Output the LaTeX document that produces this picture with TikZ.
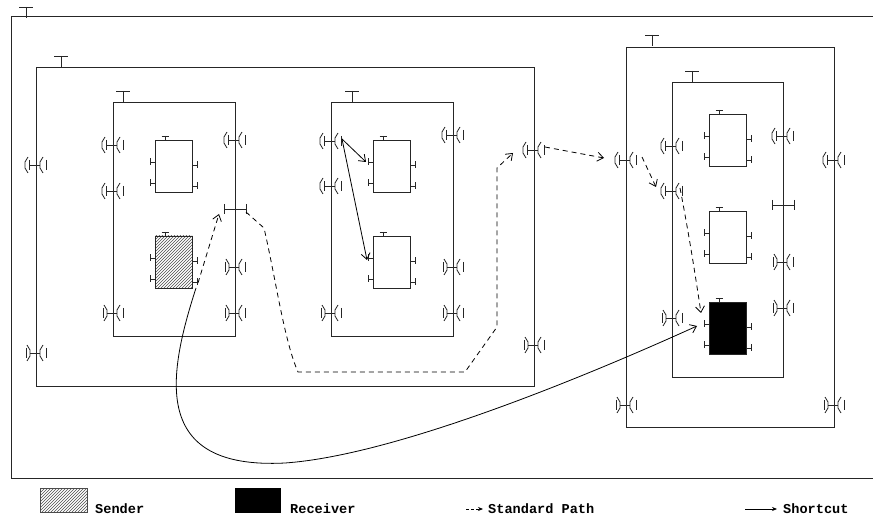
\documentclass[tikz,border=0pt]{standalone}
\usepackage{fontspec}
\newfontfamily\legfont{Liberation Mono}
\usetikzlibrary{arrows.meta,patterns}
\tikzset{
  box/.style={draw=black!85, line width=0.9pt, inner sep=0pt, minimum width=#1},
  comp/.style={draw=black!85, line width=0.9pt, inner sep=0pt, minimum width=37pt, minimum height=52.5pt},
  pline/.style={draw=black!85, line width=0.8pt},
  portA/.pic={
    \draw[pline] (-8,-8)--(-11,-3)--(-11,3)--(-8,8);
    \draw[pline] (-7,-5)--(-7,5);
    \draw[pline] (-7,0)--(4,0);
    \draw[pline] (7,-8)--(4,-3)--(4,3)--(7,8);
    \draw[pline] (10,-5)--(10,5);},
  portB/.pic={
    \draw[pline] (-10,-5)--(-10,5);
    \draw[pline] (-9,-8)--(-6,-3)--(-6,3)--(-9,8);
    \draw[pline] (-6,0)--(4,0);
    \draw[pline] (7,-8)--(4,-3)--(4,3)--(7,8);
    \draw[pline] (10,-5)--(10,5);},
  portP/.pic={
    \draw[pline] (-11,-5)--(-11,5);
    \draw[pline] (-11,0)--(11,0);
    \draw[pline] (11,-5)--(11,5);},
  bigT/.pic={
    \draw[pline] (-7,0)--(7,0);
    \draw[pline] (0,0)--(0,11);},
  smallT/.pic={
    \draw[pline] (-3.5,0)--(3.5,0);
    \draw[pline] (0,0)--(0,4);},
  tickL/.pic={
    \draw[pline] (0,0)--(-5,0);
    \draw[pline] (-5,-3.5)--(-5,3.5);},
  tickR/.pic={
    \draw[pline] (0,0)--(5,0);
    \draw[pline] (5,-3.5)--(5,3.5);},
  stdpath/.style={line width=0.8pt, dash pattern=on 5pt off 4pt, -{Straight Barb[length=6pt,width=9pt]}},
  shortpath/.style={line width=0.8pt, -{Straight Barb[length=6pt,width=9pt]}},
  legtext/.style={font=\legfont\bfseries\fontsize{13.6}{14}\selectfont, anchor=base west, inner sep=0pt},
}
\newcommand\compbox[4]{%
  \node[comp,#4] (#1) at (#2+18.5,#3+26.25) {};
  \pic at (#2+10,#3-4) {smallT};
  \pic at (#2,#3+22) {tickL};
  \pic at (#2,#3+43) {tickL};
  \pic at (#2+37,#3+25) {tickR};
  \pic at (#2+37,#3+46) {tickR};
}
\begin{document}
\begin{tikzpicture}[x=1pt,y=-1pt]
\useasboundingbox (0,0) rectangle (873,518);
% outer frame
\node[box=869pt, minimum height=462pt] (outer) at (445.5,247) {};
\pic at (26,7) {bigT};
% left big box
\node[box=498pt, minimum height=319pt] (L) at (285,226.5) {};
\pic at (61,56) {bigT};
% inner boxes
\node[box=122pt, minimum height=234pt] (A) at (174,219) {};
\pic at (123,91) {bigT};
\node[box=122pt, minimum height=234pt] (B) at (392,219) {};
\pic at (352,91) {bigT};
% right big box
\node[box=208pt, minimum height=380pt] (R) at (730,237) {};
\pic at (652,35) {bigT};
\node[box=111pt, minimum height=295pt] (C) at (727.5,229.5) {};
\pic at (692,71) {bigT};
% components
\compbox{A1}{155}{140}{}
\compbox{S}{155}{236}{pattern=north east lines, pattern color=black!70}
\compbox{B1}{373}{140}{}
\compbox{B2}{373}{236}{}
\compbox{C1}{709}{114}{}
\compbox{C2}{709}{211}{}
\compbox{Rcv}{709}{302}{fill=black}
% ports
\pic at (36,165) {portA};
\pic at (36,353) {portB};
\pic at (534,150) {portA};
\pic at (534,345) {portB};
\pic at (113,145) {portA};
\pic at (113,191) {portA};
\pic at (113,313) {portB};
\pic at (235,140) {portA};
\pic at (235,209) {portP};
\pic at (235,267) {portB};
\pic at (235,313) {portB};
\pic at (331,141) {portA};
\pic at (331,186) {portA};
\pic at (331,313) {portB};
\pic at (453,135) {portA};
\pic at (453,267) {portB};
\pic at (453,313) {portB};
\pic at (626,160) {portA};
\pic at (626,405) {portB};
\pic at (834,160) {portA};
\pic at (834,405) {portB};
\pic at (672,146) {portA};
\pic at (672,191) {portA};
\pic at (672,318) {portB};
\pic at (783,136) {portA};
\pic at (783,205) {portP};
\pic at (783,262) {portB};
\pic at (783,308) {portB};
% connector end points
\coordinate (sA) at (198,283);
\coordinate (pA) at (219,214);
\coordinate (pAo) at (246,212);
\coordinate (pL) at (513,153);
\coordinate (pLo) at (545,147);
\coordinate (pR) at (604,158);
\coordinate (pRo) at (642,157);
\coordinate (pC) at (656,187);
\coordinate (pCo) at (680,188);
\coordinate (rIn) at (701,313);
\coordinate (rIn2) at (697,326);
\coordinate (sB) at (196,288);
\coordinate (pB) at (342,139);
\coordinate (b1) at (366,162);
\coordinate (b2) at (367,260);
% standard path
\draw[stdpath] (sA) -- (pA);
\draw[stdpath] (pAo) -- (264,228) .. controls (276,280) and (284,340) .. (298,372) -- (465,372) -- (497,327) -- (497,168) -- (pL);
\draw[stdpath] (pLo) -- (pR);
\draw[stdpath] (pRo) -- (pC);
\draw[stdpath] (pCo) .. controls (690,240) and (696,280) .. (rIn);
% shortcuts
\draw[shortpath] (pB) -- (b1);
\draw[shortpath] (pB) -- (b2);
\draw[shortpath] (sB) .. controls (168,375) and (150,470) .. (285,463) .. controls (400,455) and (600,370) .. (rIn2);
% legend
\node[draw=black!70, pattern=north east lines, pattern color=black!70, minimum width=47pt, minimum height=24pt, inner sep=0pt] (legS) at (63.5,500) {};
\node[legtext] (legSt) at (95,513) {Sender};
\node[draw, fill=black, minimum width=45pt, minimum height=24pt, inner sep=0pt] (legR) at (257.5,500) {};
\node[legtext] (legRt) at (290,513) {Receiver};
\coordinate (ld1) at (466,509);
\coordinate (ld2) at (483,509);
\draw[line width=0.8pt, dash pattern=on 3pt off 2pt, -{Stealth[length=5pt,width=4pt]}] (ld1) -- (ld2);
\node[legtext] (legPt) at (488,513) {Standard Path};
\coordinate (ls1) at (745,509);
\coordinate (ls2) at (777,509);
\draw[line width=0.8pt, -{Stealth[length=5pt,width=4pt]}] (ls1) -- (ls2);
\node[legtext] (legCt) at (783,513) {Shortcut};
\end{tikzpicture}
\end{document}
